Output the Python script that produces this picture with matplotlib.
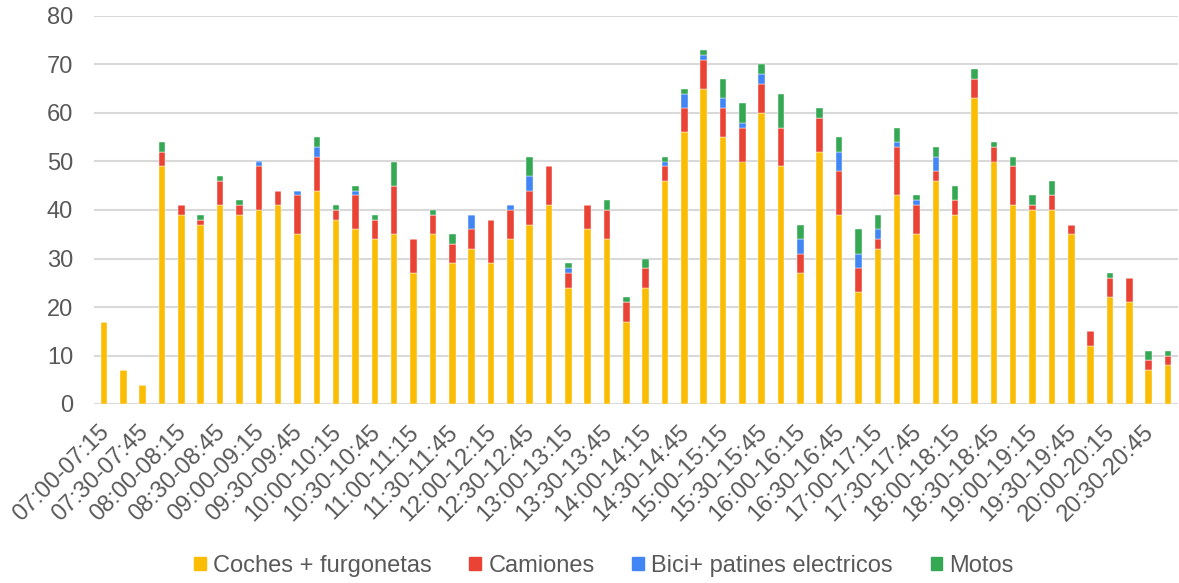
import numpy as np
import matplotlib
matplotlib.use("Agg")
import matplotlib.pyplot as plt
import matplotlib.transforms as mtransforms
from matplotlib.patches import Patch

plt.rcParams['font.family'] = ['Liberation Sans', 'DejaVu Sans']

# --- Data (vehicle counts per 15-min slot) ---
slots = [f"{h:02d}:{m:02d}-{(h + (m + 15) // 60):02d}:{(m + 15) % 60:02d}"
         for h in range(7, 21) for m in (0, 15, 30, 45)]

coches = [17, 7, 4, 49, 39, 37, 41, 39, 40, 41, 35, 44, 38, 36,
          34, 35, 27, 35, 29, 32, 29, 34, 37, 41, 24, 36, 34, 17,
          24, 46, 56, 65, 55, 50, 60, 49, 27, 52, 39, 23, 32, 43,
          35, 46, 39, 63, 50, 41, 40, 40, 35, 12, 22, 21, 7, 8]
camiones = [0, 0, 0, 3, 2, 1, 5, 2, 9, 3, 8, 7, 2, 7,
            4, 10, 7, 4, 4, 4, 9, 6, 7, 8, 3, 5, 6, 4,
            4, 3, 5, 6, 6, 7, 6, 8, 4, 7, 9, 5, 2, 10,
            6, 2, 3, 4, 3, 8, 1, 3, 2, 3, 4, 5, 2, 2]
bici = [0, 0, 0, 0, 0, 0, 0, 0, 1, 0, 1, 2, 0, 1,
        0, 0, 0, 0, 0, 3, 0, 1, 3, 0, 1, 0, 0, 0,
        0, 1, 3, 1, 2, 1, 2, 0, 3, 0, 4, 3, 2, 1,
        1, 3, 0, 0, 0, 0, 0, 0, 0, 0, 0, 0, 0, 0]
motos = [0, 0, 0, 2, 0, 1, 1, 1, 0, 0, 0, 2, 1, 1,
         1, 5, 0, 1, 2, 0, 0, 0, 4, 0, 1, 0, 2, 1,
         2, 1, 1, 1, 4, 4, 2, 7, 3, 2, 3, 5, 3, 3,
         1, 2, 3, 2, 1, 2, 2, 3, 0, 0, 1, 0, 2, 1]

series = [
    ("Coches + furgonetas", coches, "#FBBC04"),
    ("Camiones", camiones, "#EA4335"),
    ("Bici+ patines electricos", bici, "#4285F4"),
    ("Motos", motos, "#34A853"),
]

TEXT = "#595959"

fig = plt.figure(figsize=(11.79, 5.83), dpi=100)
ax = fig.add_axes([94 / 1179, 1 - 404 / 583, 1084 / 1179, 388 / 583])

x = np.arange(len(slots))
bottom = np.zeros(len(slots))
for name, vals, col in series:
    vals = np.array(vals, dtype=float)
    ax.bar(x, vals, width=0.34, bottom=bottom, color=col, edgecolor="white",
           linewidth=0.3, zorder=3)
    bottom += vals

ax.set_ylim(0, 80)
ax.set_yticks(range(0, 81, 10))
ax.set_xlim(-0.52, len(slots) - 0.48)
ax.set_xticks(x[::2])
ax.set_xticklabels(slots[::2], rotation=45, ha="right", rotation_mode="anchor")
ax.tick_params(axis="both", length=0, labelsize=17, colors=TEXT)
ax.tick_params(axis="y", pad=15)
ax.tick_params(axis="x", pad=11)

# nudge rotated labels a bit left/down like the original
shift = mtransforms.ScaledTranslation(-6 / 100, -2 / 100, fig.dpi_scale_trans)
for lbl in ax.get_xticklabels():
    lbl.set_transform(lbl.get_transform() + shift)

ax.grid(axis="y", color="#d9d9d9", linewidth=1.5, zorder=0)
for s in ax.spines.values():
    s.set_visible(False)

handles = [Patch(color=c, label=n) for n, _, c in series]
fig.legend(handles=handles, loc="center", bbox_to_anchor=(604 / 1179, 1 - 566 / 583),
           ncol=4, frameon=False, fontsize=17, labelcolor=TEXT,
           handlelength=0.5, handleheight=0.5, handletextpad=0.3,
           columnspacing=1.6)

fig.savefig("out.png", dpi=100)
